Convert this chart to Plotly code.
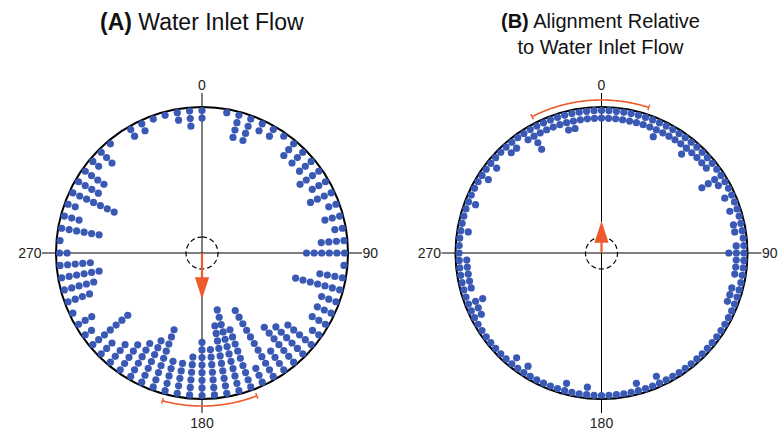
import numpy as np
import plotly.graph_objects as go

# ---------------- data ----------------
# Panel A: binned headings (deg, clockwise from 0 = inlet) and number of animals per bin
a_bins = list(range(0, 360, 5))
a_counts = [2, 0, 1, 4, 4, 2, 2, 1, 3, 3,
            3, 4, 3, 4, 2, 3, 2, 4, 6, 1,
            4, 7, 3, 3, 3, 2, 5, 6, 7, 4,
            11, 3, 9, 12, 10, 7, 8, 6, 5, 5,
            9, 7, 6, 5, 4, 3, 7, 2, 3, 1,
            4, 5, 6, 5, 2, 1, 6, 3, 2, 7,
            4, 4, 2, 3, 1, 0, 2, 2, 1, 1,
            2, 3]

# Panel B: binned relative alignment (deg) and counts
b_bins = list(range(0, 360, 3))
b_counts = [2, 2, 2, 2, 2, 2, 2, 2, 3, 2,
            2, 2, 2, 3, 2, 2, 2, 2, 1, 4,
            2, 1, 2, 1, 2, 1, 2, 2, 1, 2,
            3, 2, 2, 2, 1, 2, 2, 2, 1, 1,
            1, 1, 1, 1, 1, 1, 1, 1, 1, 1,
            1, 1, 2, 1, 1, 2, 1, 1, 1, 1,
            1, 1, 2, 1, 1, 2, 1, 1, 1, 1,
            1, 2, 1, 2, 1, 1, 1, 1, 1, 1,
            1, 2, 2, 3, 1, 2, 2, 2, 2, 2,
            1, 1, 1, 2, 1, 1, 1, 2, 1, 1,
            1, 2, 1, 2, 1, 1, 2, 2, 1, 2,
            4, 2, 2, 2, 2, 3, 3, 2, 2, 2]

mean_dir = [180, 0]          # mean direction (deg)
mean_len = [46, 32]          # arrow length (plot units)
ci_low = [159, -27]          # confidence interval of mean direction
ci_high = [195, 18]

titles = ["<b>(A)</b> Water Inlet Flow",
          "<b>(B)</b> Alignment Relative<br>to Water Inlet Flow"]
tick_vals = [0, 90, 180, 270]
tick_text = ["0", "90", "180", "270"]

# ---------------- style ----------------
BLUE = "#3a59b4"
ORANGE = "#ee5a2c"
R_CIRCLE = 146
R_MAX = 160
R_DOT = 142.5
DOT_STEP = 7.6
DOT_SIZE = 7.2
R_ARC = 153
R_CENTER = 16
FONT = "Liberation Sans, Arial"

W, H = 784, 432
fig = go.Figure()


def stack(bins, counts):
    th, rr = [], []
    for b, c in zip(bins, counts):
        for k in range(c):
            th.append(b)
            rr.append(R_DOT - k * DOT_STEP)
    return th, rr


panels = [(a_bins, a_counts, "polar"), (b_bins, b_counts, "polar2")]
for i, (bins, counts, sp) in enumerate(panels):
    th, rr = stack(bins, counts)
    # center dashed circle
    tt = np.linspace(0, 360, 181)
    fig.add_trace(go.Scatterpolar(r=[R_CENTER] * len(tt), theta=tt, mode="lines",
                                  line=dict(color="black", width=1.2, dash="5px,3px"),
                                  subplot=sp, hoverinfo="skip"))
    # dots
    fig.add_trace(go.Scatterpolar(r=rr, theta=th, mode="markers",
                                  marker=dict(size=DOT_SIZE, color=BLUE, line=dict(width=0)),
                                  subplot=sp))
    # mean vector
    L = mean_len[i]
    d = mean_dir[i]
    fig.add_trace(go.Scatterpolar(r=[0, L - 12], theta=[d, d], mode="lines",
                                  line=dict(color=ORANGE, width=2.2), subplot=sp))
    fig.add_trace(go.Scatterpolar(r=[L], theta=[d], mode="markers",
                                  marker=dict(symbol="arrow", size=23, angle=d, color=ORANGE,
                                              line=dict(width=0)),
                                  subplot=sp))
    # confidence arc with end caps
    at = np.linspace(ci_low[i], ci_high[i], 80)
    fig.add_trace(go.Scatterpolar(r=[R_ARC] * len(at), theta=at, mode="lines",
                                  line=dict(color=ORANGE, width=1.6), subplot=sp))
    fig.add_trace(go.Scatterpolar(r=[R_ARC - 3, R_ARC + 3, None, R_ARC - 3, R_ARC + 3],
                                  theta=[ci_low[i], ci_low[i], None, ci_high[i], ci_high[i]],
                                  mode="lines", line=dict(color=ORANGE, width=1.4), subplot=sp))


def polar_layout(cx, cy):
    return dict(
        domain=dict(x=[(cx - R_MAX) / W, (cx + R_MAX) / W],
                    y=[(H - cy - R_MAX) / H, (H - cy + R_MAX) / H]),
        bgcolor="rgba(0,0,0,0)",
        angularaxis=dict(rotation=90, direction="clockwise", tickmode="array",
                         tickvals=tick_vals, ticktext=tick_text, showgrid=True,
                         gridcolor="black", gridwidth=1.3, showline=False, ticks="",
                         tickfont=dict(family=FONT, size=14, color="#222")),
        radialaxis=dict(range=[0, R_MAX], showgrid=True, tickmode="array",
                        tickvals=[R_CIRCLE], gridcolor="black", gridwidth=1.6,
                        showticklabels=False, showline=False, ticks=""),
    )


fig.update_layout(
    width=W, height=H, margin=dict(l=0, r=0, t=0, b=0),
    paper_bgcolor="white", showlegend=False,
    polar=polar_layout(202, 253),
    polar2=polar_layout(601.5, 253),
    annotations=[
        dict(text=titles[0], x=202 / W, y=(H - 22) / H, xref="paper", yref="paper",
             showarrow=False, xanchor="center", yanchor="middle",
             font=dict(family=FONT, size=23, color="#111")),
        dict(text=titles[1], x=600 / W, y=(H - 34) / H, xref="paper", yref="paper",
             showarrow=False, xanchor="center", yanchor="middle",
             font=dict(family=FONT, size=20, color="#111")),
    ],
)

fig.write_html("out.html", config={"displayModeBar": False},
               post_script="document.body.style.margin='0';")
